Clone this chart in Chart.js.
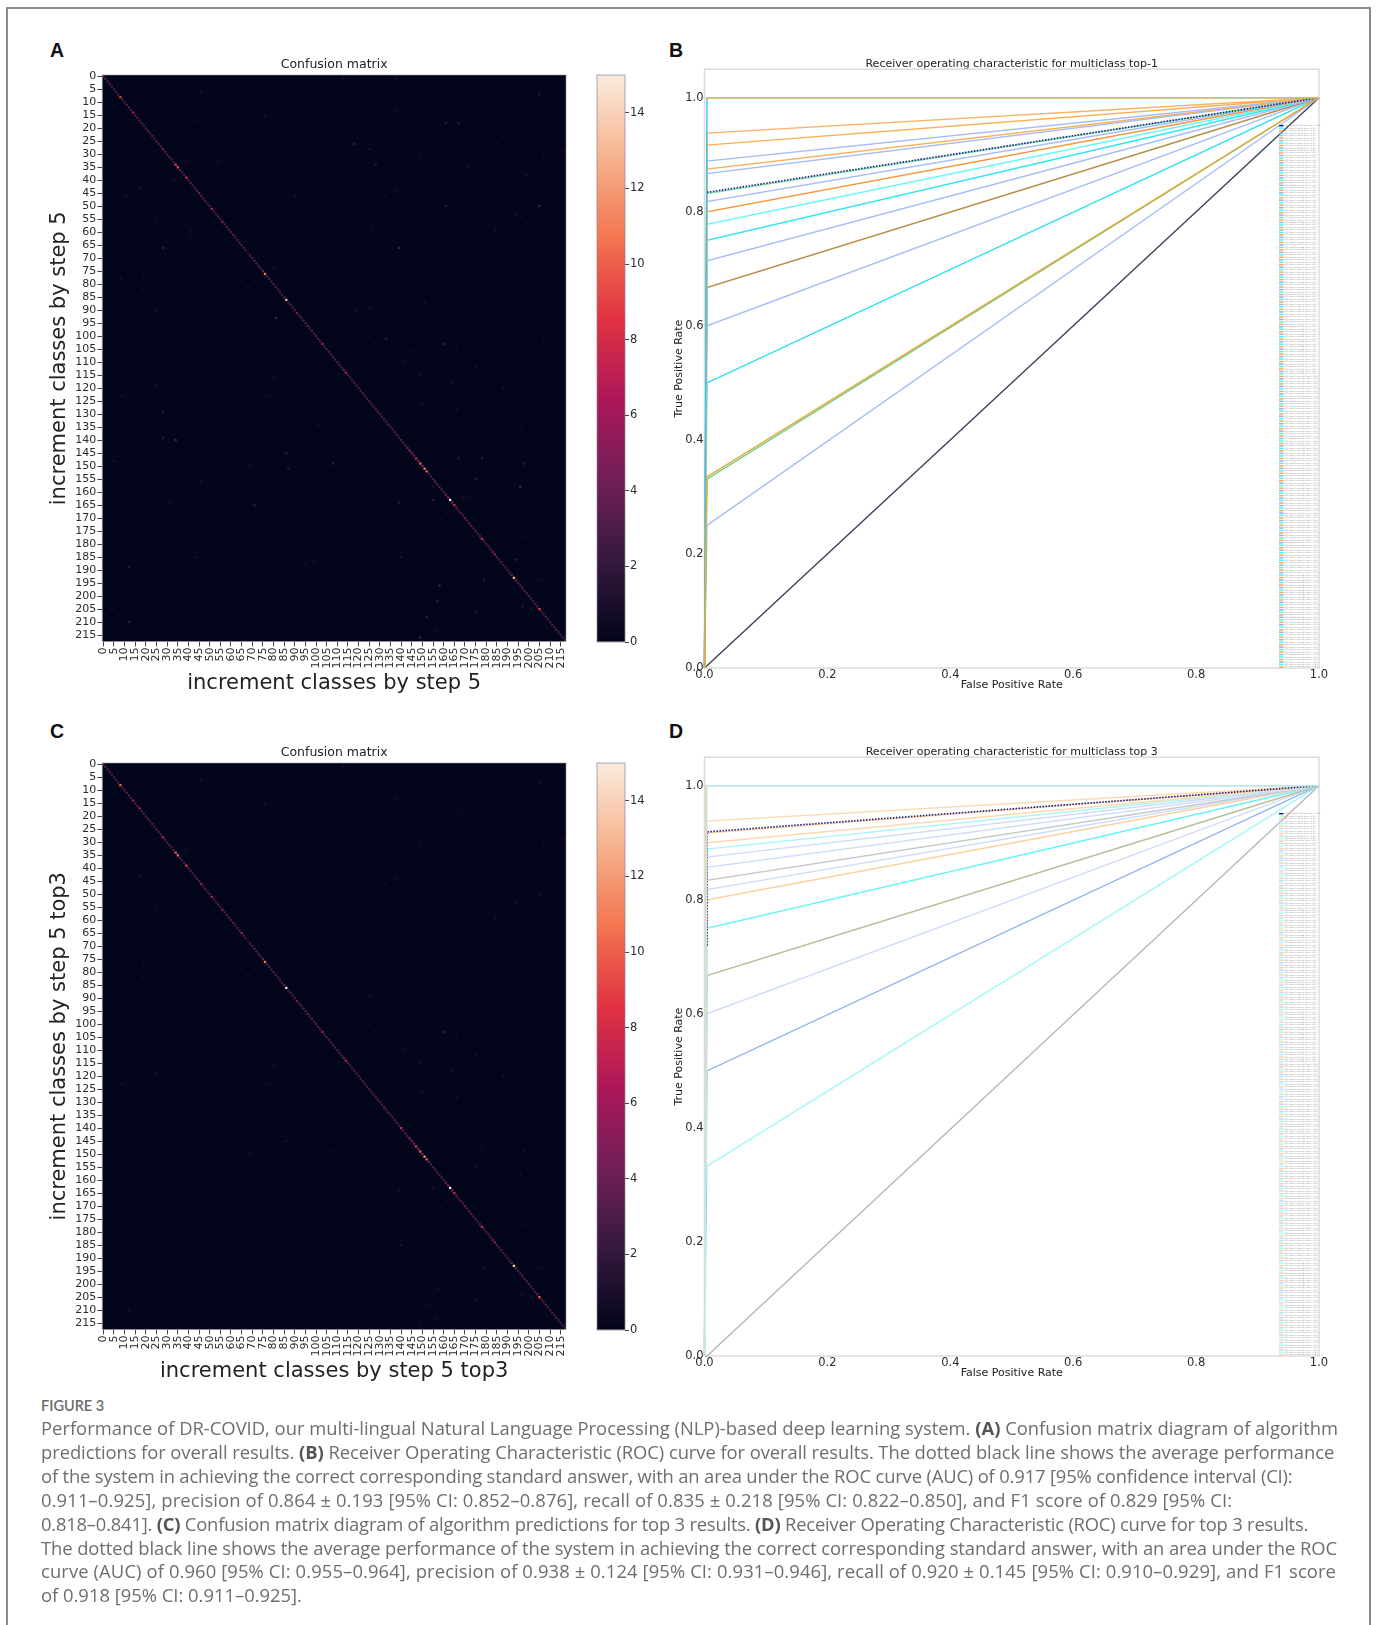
<!DOCTYPE html>
<html>
<head>
<meta charset="utf-8">
<title>Figure 3</title>
<script src="https://cdn.jsdelivr.net/npm/chart.js@4"></script>
<style>
  html, body { margin: 0; padding: 0; background: #fff; }
  body { position: relative; width: 1377px; height: 1625px; overflow: hidden; }
  canvas { position: absolute; filter: blur(0.45px); }
  #frame { position: absolute; left: 6px; top: 7px; width: 1361px; height: 1660px; border: 2px solid #8b8b8b; }
  .letter { position: absolute; font: bold 19.5px "Liberation Sans", sans-serif; color: #111; line-height: 20px; }
  #figlabel { position: absolute; left: 41px; top: 1396px; font: 600 14.5px "Lato", sans-serif; color: #6b6b6b; line-height: 20px; }
  #caption { position: absolute; left: 41px; top: 1416px; width: 1320px; font: 400 18.4px/23.9px "Open Sans", sans-serif; color: #6e6e6e; white-space: nowrap; filter: blur(0.3px); }
  #caption b { color: #555; }
</style>
</head>
<body>
<div id="frame"></div>
<div class="letter" style="left:50px;top:40px">A</div>
<div class="letter" style="left:669px;top:40px">B</div>
<div class="letter" style="left:50px;top:721px">C</div>
<div class="letter" style="left:669px;top:721px">D</div>

<canvas id="matrixTop1" width="535" height="641" style="left:40px;top:56px"></canvas>
<canvas id="barTop1" width="60" height="587" style="left:590px;top:65px"></canvas>
<canvas id="rocTop1" width="664" height="647" style="left:665px;top:53px"></canvas>
<canvas id="matrixTop3" width="535" height="641" style="left:40px;top:744px"></canvas>
<canvas id="barTop3" width="60" height="587" style="left:590px;top:753px"></canvas>
<canvas id="rocTop3" width="664" height="647" style="left:665px;top:741px"></canvas>

<div id="figlabel">FIGURE 3</div>
<div id="caption"><span>Performance of DR-COVID, our multi-lingual Natural Language Processing (NLP)-based deep learning system. <b>(A)</b> Confusion matrix diagram of algorithm</span><br>
<span style="letter-spacing:-0.067px">predictions for overall results. <b>(B)</b> Receiver Operating Characteristic (ROC) curve for overall results. The dotted black line shows the average performance</span><br>
<span style="letter-spacing:-0.16px">of the system in achieving the correct corresponding standard answer, with an area under the ROC curve (AUC) of 0.917 [95% confidence interval (CI):</span><br>
<span style="letter-spacing:0.125px">0.911–0.925], precision of 0.864 ± 0.193 [95% CI: 0.852–0.876], recall of 0.835 ± 0.218 [95% CI: 0.822–0.850], and F1 score of 0.829 [95% CI:</span><br>
<span style="letter-spacing:-0.207px">0.818–0.841]. <b>(C)</b> Confusion matrix diagram of algorithm predictions for top 3 results. <b>(D)</b> Receiver Operating Characteristic (ROC) curve for top 3 results.</span><br>
<span style="letter-spacing:-0.09px">The dotted black line shows the average performance of the system in achieving the correct corresponding standard answer, with an area under the ROC</span><br>
<span style="letter-spacing:0.114px">curve (AUC) of 0.960 [95% CI: 0.955–0.964], precision of 0.938 ± 0.124 [95% CI: 0.931–0.946], recall of 0.920 ± 0.145 [95% CI: 0.910–0.929], and F1 score</span><br>
<span>of 0.918 [95% CI: 0.911–0.925].</span></div>

<script>
// Tick labels shared by both confusion matrices
const classTicks = [0, 5, 10, 15, 20, 25, 30, 35, 40, 45, 50, 55, 60, 65, 70, 75, 80, 85, 90, 95, 100, 105,
  110, 115, 120, 125, 130, 135, 140, 145, 150, 155, 160, 165, 170, 175, 180, 185, 190, 195, 200, 205, 210, 215];
const colorbarTicks = [0, 2, 4, 6, 8, 10, 12, 14];
const classCount = 218;

// Diagonal counts, ten classes per line
const diagonalTop1 = [
  3, 3, 3, 3, 3, 3, 3, 3, 9, 3,
  3, 3, 3, 3, 6, 3, 3, 3, 3, 3,
  3, 3, 3, 3, 3, 3, 3, 3, 5, 3,
  3, 3, 3, 3, 9, 9, 3, 3, 3, 8,
  3, 3, 3, 3, 3, 4, 3, 3, 3, 3,
  3, 7, 3, 3, 3, 3, 5, 3, 3, 3,
  3, 3, 3, 3, 3, 3, 3, 3, 3, 3,
  3, 3, 3, 3, 3, 4, 11, 3, 3, 3,
  3, 3, 3, 3, 3, 3, 13, 3, 3, 3,
  3, 5, 3, 3, 3, 3, 4, 3, 3, 3,
  3, 3, 3, 7, 3, 3, 3, 3, 3, 3,
  3, 3, 3, 4, 7, 3, 3, 3, 3, 3,
  3, 3, 3, 3, 3, 3, 3, 3, 3, 3,
  3, 3, 3, 3, 4, 3, 3, 3, 3, 3,
  3, 3, 3, 4, 5, 4, 5, 8, 5, 10,
  5, 11, 10, 3, 3, 3, 4, 3, 3, 3,
  3, 4, 5, 15, 5, 8, 4, 3, 3, 3,
  4, 3, 3, 3, 3, 3, 3, 3, 8, 3,
  3, 3, 3, 4, 6, 3, 3, 3, 3, 3,
  3, 3, 4, 13, 5, 3, 3, 3, 3, 3,
  3, 3, 3, 3, 3, 9, 3, 3, 3, 3,
  3, 3, 3, 3, 3, 3, 3, 3
];

// Diagonal counts
const diagonalTop3 = [
  3, 3, 3, 3, 3, 3, 3, 3, 10, 3,
  3, 3, 3, 3, 6, 3, 3, 6, 3, 3,
  3, 3, 3, 3, 3, 3, 3, 3, 7, 3,
  3, 3, 3, 3, 10, 10, 3, 3, 3, 9,
  3, 3, 3, 3, 3, 3, 6, 3, 3, 3,
  3, 7, 3, 3, 3, 3, 5, 3, 3, 3,
  3, 3, 3, 3, 3, 6, 3, 3, 3, 3,
  3, 3, 3, 3, 3, 4, 11, 3, 3, 3,
  3, 3, 3, 3, 3, 4, 15, 3, 3, 3,
  3, 5, 3, 3, 3, 3, 4, 3, 3, 3,
  3, 3, 3, 7, 3, 3, 3, 3, 3, 3,
  3, 3, 3, 4, 8, 3, 3, 3, 3, 3,
  3, 3, 3, 3, 3, 3, 3, 3, 3, 3,
  3, 3, 4, 3, 4, 3, 3, 3, 3, 3,
  8, 3, 3, 3, 5, 4, 5, 9, 5, 10,
  5, 12, 10, 4, 3, 3, 3, 3, 3, 3,
  3, 4, 5, 15, 5, 8, 4, 3, 3, 3,
  4, 3, 3, 3, 3, 3, 3, 3, 8, 3,
  3, 3, 3, 4, 6, 3, 3, 3, 3, 3,
  3, 3, 4, 14, 5, 3, 3, 3, 3, 3,
  3, 3, 3, 3, 4, 10, 3, 3, 3, 3,
  3, 3, 3, 3, 3, 3, 3, 3
];

// Stray cells, [column, row, count]
const strayTop1 = [
  [46, 6, 1], [113, 1, 1], [138, 1, 1], [205, 7, 2], [137, 13, 1], [76, 15, 1], [43, 17, 1], [161, 18, 2],
  [167, 18, 2], [118, 26, 2], [125, 28, 1], [185, 26, 1], [149, 31, 1], [207, 31, 1], [216, 29, 1], [128, 34, 2],
  [54, 33, 1], [39, 33, 1], [171, 35, 1], [199, 38, 1], [33, 40, 1], [17, 43, 1], [11, 46, 1], [90, 46, 1],
  [132, 46, 1], [137, 44, 1], [161, 50, 2], [205, 50, 3], [194, 53, 1], [196, 54, 1], [25, 55, 1], [126, 58, 1],
  [41, 59, 1], [41, 62, 1], [184, 59, 1], [28, 66, 2], [139, 66, 3], [68, 68, 1], [19, 76, 1], [80, 74, 1],
  [8, 78, 1], [19, 82, 1], [68, 81, 1], [151, 87, 1], [25, 90, 1], [119, 90, 1], [125, 89, 1], [81, 93, 3],
  [125, 100, 1], [133, 101, 2], [197, 100, 1], [207, 101, 1], [160, 103, 2], [166, 104, 1], [146, 106, 1],
  [141, 110, 1], [149, 115, 1], [175, 112, 1], [80, 116, 1], [25, 119, 1], [164, 118, 1], [188, 120, 1],
  [9, 123, 1], [78, 123, 1], [150, 126, 1], [166, 128, 1], [28, 129, 2], [101, 134, 1], [196, 136, 1],
  [28, 139, 2], [34, 140, 3], [103, 140, 1], [178, 140, 1], [86, 145, 2], [167, 147, 2], [178, 147, 2],
  [5, 148, 1], [108, 149, 2], [198, 149, 2], [69, 150, 1], [87, 151, 2], [46, 156, 1], [175, 155, 2],
  [196, 158, 3], [155, 158, 1], [31, 164, 1], [71, 165, 2], [139, 164, 2], [155, 163, 2], [169, 162, 1],
  [172, 162, 1], [162, 168, 1], [174, 177, 1], [197, 177, 1], [40, 183, 1], [44, 185, 1], [140, 185, 1],
  [194, 186, 2], [99, 187, 1], [95, 188, 1], [12, 189, 2], [179, 194, 2], [204, 194, 1], [206, 194, 1],
  [158, 196, 3], [157, 202, 2], [4, 205, 1], [197, 204, 2], [201, 205, 1], [175, 206, 2], [152, 208, 2],
  [12, 210, 2], [156, 213, 1], [149, 216, 3], [67, 217, 1]
];
const strayTop3 = [
  [46, 6, 1], [113, 1, 1], [205, 7, 1], [137, 13, 1], [76, 15, 1], [167, 18, 1], [39, 33, 1], [149, 31, 1],
  [207, 31, 1], [216, 29, 1], [17, 43, 1], [132, 46, 1], [137, 44, 1], [205, 50, 1], [194, 53, 1], [25, 55, 1],
  [184, 59, 1], [28, 66, 1], [68, 68, 1], [19, 76, 1], [19, 82, 1], [68, 81, 1], [125, 89, 1], [125, 100, 1],
  [160, 103, 2], [166, 104, 1], [141, 110, 1], [149, 115, 1], [175, 112, 1], [80, 116, 1], [25, 119, 1],
  [164, 118, 1], [188, 120, 1], [9, 123, 1], [78, 123, 1], [150, 126, 1], [166, 128, 1], [178, 140, 1],
  [86, 145, 1], [178, 147, 1], [108, 149, 1], [198, 149, 1], [69, 150, 1], [175, 155, 1], [196, 158, 1],
  [139, 164, 1], [155, 163, 1], [162, 168, 1], [197, 177, 1], [140, 185, 1], [179, 194, 1], [204, 194, 1],
  [206, 194, 1], [157, 202, 1], [197, 204, 1], [201, 205, 1], [175, 206, 1], [152, 208, 1], [12, 210, 1],
  [156, 213, 1], [149, 216, 1], [67, 217, 1]
];

// ROC curves, one line per distinct TPR visible in the panels. Index 0 draws on top.
const fprTop1 = [0.004, 0.004, 0.004, 0.004, 0.004, 0.004, 0.004, 0.004, 0.004, 0.004, 0.004, 0.004, 0.004, 0.004, 0.004, 0.004, 0.004, 0.004, 0];
const tprTop1 = [0.335, 1, 0.938, 0.917, 0.889, 0.875, 0.867, 0.832, 0.818, 0.8, 0.778, 0.75, 0.714, 0.667, 0.6, 0.5, 0.331, 0.25, 0];
const colorsTop1 = ['#e8a93a', '#2fc8ee', '#fbb266', '#fbb054', '#a5bcf5', '#fbae5a', '#a5bcf5', '#7fe3a8', '#a5bcf5', '#f8963a', '#66f7f7',
  '#2fe6f0', '#a5bcf5', '#b88d45', '#a5bcf5', '#27e0f0', '#6fcf8a', '#a5bcf5', '#39415a'];
const fprTop3 = [0.004, 0.004, 0.004, 0.004, 0.004, 0.004, 0.004, 0.004, 0.004, 0.004, 0.004, 0.004, 0.004, 0.004, 0.004, 0.004, 0.002];
const tprTop3 = [1, 0.938, 0.917, 0.9, 0.889, 0.875, 0.857, 0.834, 0.818, 0.8, 0.75, 0.667, 0.6, 0.5, 0.333, 0, 1];
const colorsTop3 = ['#b5eaf7', '#fcd9b0', '#fcd09a', '#fcd9b0', '#a8f7f7', '#cfdcf9', '#cfdcf9', '#c4c8cc', '#cfdcf9', '#fcd09a',
  '#66f5f5', '#b9bd9c', '#cfdcf9', '#93b5ef', '#a0f8f8', '#b8b8b8', '#fcd09a'];

// Macro-average curve (dotted) of each ROC panel, only its visible part
const macroFprTop1 = [0.004, 1];
const macroTprTop1 = [0.834, 1];
const macroFprTop3 = [0.004, 0.004, 1];
const macroTprTop3 = [0.72, 0.919, 1];

// Orange line lying over the cyan one along TPR = 1 in panel B
const capFprTop1 = [0.002, 1];
const capTprTop1 = [1, 1];

// Legend cycle of the ROC panels and the legend's tiny text (its area values cannot be read in the reference)
const legendCycle = ['#33ffff', '#ffa64d', '#8fb0f2'];
const legendCyclePale = ['#99ffff', '#ffd0a0', '#c4d4f8'];
const legendAreaText = '0.95';

// Rocket colormap stops used by both colorbars
const rocketStops = [[3, 5, 26], [53, 25, 62], [112, 31, 87], [173, 23, 89], [225, 51, 66], [243, 118, 81], [246, 180, 143], [250, 235, 221]];

Chart.defaults.font.family = '"DejaVu Sans", sans-serif';
Chart.defaults.color = '#2c2c2c';
Chart.defaults.animation = false;

function rocket(value) {
  const t = Math.min(value / 15, 1) * (rocketStops.length - 1);
  const i = Math.min(Math.floor(t), rocketStops.length - 2);
  const f = t - i;
  const c = rocketStops[i].map((v, k) => Math.round(v + (rocketStops[i + 1][k] - v) * f));
  return 'rgb(' + c.join(',') + ')';
}

// Fills the empty matrix cells and outlines the plot
const matrixBackground = {
  id: 'matrixBackground',
  beforeDatasetsDraw(chart) {
    const a = chart.chartArea;
    chart.ctx.save();
    chart.ctx.fillStyle = rocket(0);
    chart.ctx.fillRect(a.left, a.top, a.width, a.height);
    chart.ctx.restore();
  },
  afterDatasetsDraw(chart) {
    const a = chart.chartArea;
    chart.ctx.save();
    chart.ctx.strokeStyle = 'rgba(150,150,160,0.6)';
    chart.ctx.strokeRect(a.left, a.top, a.width, a.height);
    chart.ctx.restore();
  }
};

function newMatrix(id, diagonal, stray, label) {
  const cells = diagonal.map((v, i) => ({ x: i + 0.5, y: i + 0.5, v: v }))
    .concat(stray.map(c => ({ x: c[0] + 0.5, y: c[1] + 0.5, v: c[2] })));
  const axis = {
    type: 'linear',
    min: 0,
    max: classCount,
    afterBuildTicks: scale => { scale.ticks = classTicks.map(t => ({ value: t + 0.5 })); },
    grid: { drawOnChartArea: false, tickLength: 5, tickColor: '#444' },
    border: { display: false },
    title: { display: true, text: label, font: { size: 21 }, lineHeight: 1.2, color: '#222' }
  };
  new Chart(document.getElementById(id), {
    type: 'scatter',
    data: {
      datasets: [{
        data: cells,
        pointStyle: 'rect',
        pointRadius: 1.6,
        pointBorderWidth: 0,
        pointBackgroundColor: ctx => rocket(ctx.raw.v)
      }]
    },
    options: {
      responsive: false,
      events: [],
      layout: { padding: { right: 8 } },
      plugins: {
        legend: { display: false },
        tooltip: { enabled: false },
        title: { display: true, fullSize: false, text: 'Confusion matrix', font: { size: 12.5, weight: 'normal' }, lineHeight: 1.2, padding: { top: 1, bottom: 3 }, color: '#222' }
      },
      scales: {
        x: {
          ...axis,
          ticks: { autoSkip: false, minRotation: 90, maxRotation: 90, padding: 1, font: { size: 11 }, callback: v => String(v - 0.5) },
          title: { ...axis.title, padding: { top: 0, bottom: 0.5 } },
          afterFit: scale => { scale.height = 55.5; }
        },
        y: {
          ...axis,
          reverse: true,
          ticks: { autoSkip: false, padding: 1, font: { size: 11 }, callback: v => String(v - 0.5) },
          title: { ...axis.title, padding: { top: 7, bottom: 0 } },
          afterFit: scale => { scale.width = 62.3; }
        }
      }
    },
    plugins: [matrixBackground]
  });
}

function newColorbar(id) {
  new Chart(document.getElementById(id), {
    type: 'bar',
    data: {
      labels: [''],
      datasets: [{
        data: [15],
        barPercentage: 1,
        categoryPercentage: 1,
        backgroundColor: ctx => {
          const a = ctx.chart.chartArea;
          if (!a) return rocket(7);
          const g = ctx.chart.ctx.createLinearGradient(0, a.bottom, 0, a.top);
          rocketStops.forEach((c, i) => g.addColorStop(i / (rocketStops.length - 1), 'rgb(' + c.join(',') + ')'));
          return g;
        }
      }]
    },
    options: {
      responsive: false,
      events: [],
      layout: { padding: { left: 7, top: 10, bottom: 10 } },
      plugins: { legend: { display: false }, tooltip: { enabled: false } },
      scales: {
        x: { display: false },
        y: {
          position: 'right',
          min: 0,
          max: 15,
          afterBuildTicks: scale => { scale.ticks = colorbarTicks.map(t => ({ value: t })); },
          grid: { drawOnChartArea: false, tickLength: 4, tickColor: '#444' },
          border: { display: false },
          ticks: { padding: 1, font: { size: 11.5 } },
          afterFit: scale => { scale.width = 25; }
        }
      }
    },
    plugins: [{
      id: 'barOutline',
      afterDatasetsDraw(chart) {
        const a = chart.chartArea;
        chart.ctx.save();
        chart.ctx.strokeStyle = 'rgba(140,130,150,0.7)';
        chart.ctx.strokeRect(a.left, a.top, a.width, a.height);
        chart.ctx.restore();
      }
    }]
  });
}

// Draws the spines and the long matplotlib legend sitting in the lower right of the plot
function rocDecorations(cycle) {
  return {
    id: 'rocDecorations',
    beforeDatasetsDraw(chart) {
      const a = chart.chartArea;
      const c = chart.ctx;
      c.save();
      c.strokeStyle = '#dcdcdc';
      c.lineWidth = 1.5;
      c.strokeRect(a.left, a.top, a.width, a.height);
      c.restore();
    },
    afterDatasetsDraw(chart) {
      const a = chart.chartArea;
      const c = chart.ctx;
      const rows = classCount + 1;
      const pitch = (a.bottom - a.top - 55) / rows;
      c.save();
      c.font = '1.8px "DejaVu Sans"';
      c.textBaseline = 'middle';
      for (let i = 0; i < rows; i++) {
        const y = a.bottom - 1 - (rows - 1 - i) * pitch;
        const text = i === 0 ? 'macro-average ROC curve (area = 0.92)' : 'ROC curve of class ' + (i - 1) + ' (area = ' + legendAreaText + ')';
        c.strokeStyle = i === 0 ? '#1a1a8c' : cycle[(i - 1) % 3];
        c.lineWidth = 1.5;
        c.beginPath();
        c.moveTo(a.right - 40, y);
        c.lineTo(a.right - 35.5, y);
        c.stroke();
        c.fillStyle = '#8c8c8c';
        c.fillText(text, a.right - 34.5, y);
      }
      c.restore();
    }
  };
}

function overlayLine(fpr, tpr, color, dash) {
  return {
    data: fpr.map((x, i) => ({ x: x, y: tpr[i] })),
    showLine: true,
    pointRadius: 0,
    borderColor: color,
    borderWidth: dash.length ? 1.6 : 1.4,
    borderDash: dash,
    clip: false
  };
}

function newRoc(id, fpr, tpr, colors, overlays, title, cycle) {
  const datasets = tpr.map((t, i) => overlayLine([0, fpr[i], 1], [0, t, 1], colors[i], []));
  // overlays go on top of the line at their index, highest index inserted first
  overlays.forEach(o => datasets.splice(o.index, 0, overlayLine(o.fpr, o.tpr, o.color, o.dash)));
  new Chart(document.getElementById(id), {
    type: 'scatter',
    data: { datasets: datasets },
    options: {
      responsive: false,
      events: [],
      layout: { padding: { right: 10 } },
      plugins: {
        legend: { display: false },
        tooltip: { enabled: false },
        title: { display: true, fullSize: false, text: title, font: { size: 11, weight: 'normal' }, lineHeight: 1.25, padding: { top: 5, bottom: -2 }, color: '#222' }
      },
      scales: {
        x: {
          min: 0,
          max: 1,
          grid: { display: false, drawTicks: false },
          border: { display: false },
          ticks: { stepSize: 0.2, padding: 0, font: { size: 11.5 }, callback: v => v.toFixed(1) },
          title: { display: true, text: 'False Positive Rate', font: { size: 11 }, lineHeight: 1.2, padding: { top: 0, bottom: 8.5 }, color: '#222' },
          afterFit: scale => { scale.height = 32; }
        },
        y: {
          min: 0,
          max: 1.05,
          grid: { display: false, drawTicks: false },
          border: { display: false },
          ticks: { stepSize: 0.2, includeBounds: false, padding: 1, font: { size: 11.5 }, callback: v => v.toFixed(1) },
          title: { display: true, text: 'True Positive Rate', font: { size: 11 }, lineHeight: 1.2, padding: { top: 8, bottom: 0 }, color: '#222' },
          afterFit: scale => { scale.width = 39.5; }
        }
      }
    },
    plugins: [rocDecorations(cycle)]
  });
}

newMatrix('matrixTop1', diagonalTop1, strayTop1, 'increment classes by step 5');
newColorbar('barTop1');
newRoc('rocTop1', fprTop1, tprTop1, colorsTop1, [
  { index: 2, fpr: macroFprTop1, tpr: macroTprTop1, color: '#1a1a8c', dash: [1.5, 1.5] },
  { index: 0, fpr: capFprTop1, tpr: capTprTop1, color: '#f7b14e', dash: [] }
], 'Receiver operating characteristic for multiclass top-1', legendCycle);
newMatrix('matrixTop3', diagonalTop3, strayTop3, 'increment classes by step 5 top3');
newColorbar('barTop3');
newRoc('rocTop3', fprTop3, tprTop3, colorsTop3, [
  { index: 1, fpr: macroFprTop3, tpr: macroTprTop3, color: '#1a1a8c', dash: [1.5, 1.5] }
], 'Receiver operating characteristic for multiclass top 3', legendCyclePale);
</script>
</body>
</html>
